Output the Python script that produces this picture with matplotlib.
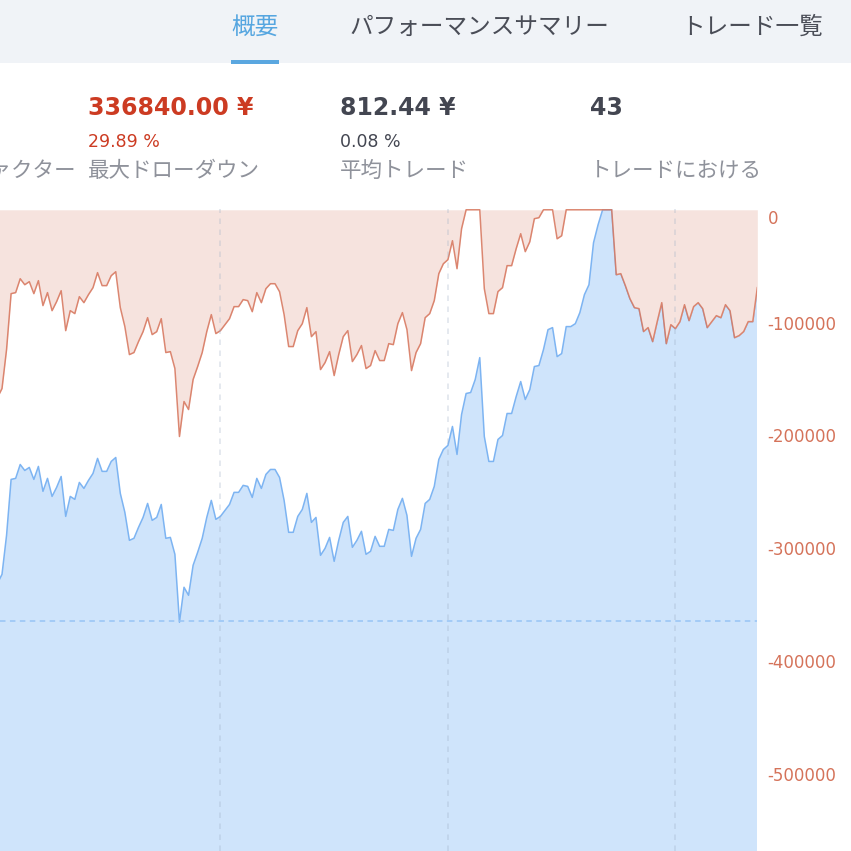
import numpy as np
import matplotlib.pyplot as plt
from matplotlib.patches import Rectangle

# fonts: japanese text needs a CJK family, numbers look closer in DejaVu
JP = ['Noto Sans CJK JP', 'DejaVu Sans']
NUM = ['DejaVu Sans', 'Noto Sans CJK JP']

# ---- data ----
# equity per closed trade (JPY), trade numbers 1..168 of the visible window
equity = [
    1033600, 1041600, 1076100, 1125700, 1126600, 1138900, 1133600, 1136300, 1125700, 1137200,
    1115100, 1126600, 1110600, 1118600, 1128300, 1092900, 1110600, 1108000, 1123000, 1117700,
    1124800, 1131000, 1144300, 1132800, 1132800, 1141600, 1145100, 1113300, 1096500, 1071700,
    1073500, 1083200, 1092000, 1104400, 1089400, 1092000, 1103500, 1073500, 1074300, 1059300,
    999100, 1030100, 1023000, 1049600, 1061100, 1073500, 1092000, 1107100, 1090300, 1092900,
    1098200, 1103500, 1114200, 1114200, 1120400, 1119500, 1109700, 1126600, 1117700, 1130100,
    1134500, 1134500, 1127400, 1107100, 1078800, 1078800, 1092900, 1099100, 1113300, 1087600,
    1092000, 1058400, 1064600, 1074300, 1053100, 1071700, 1087600, 1092900, 1065500, 1071700,
    1079700, 1059300, 1062000, 1075200, 1066400, 1066400, 1081400, 1080500, 1099100, 1108900,
    1093800, 1057500, 1073500, 1081400, 1104400, 1108000, 1119500, 1143400, 1152200, 1155800,
    1172600, 1147800, 1183200, 1201800, 1202700, 1214200, 1233600, 1163700, 1141600, 1141600,
    1161100, 1164600, 1184100, 1184100, 1199100, 1212400, 1196500, 1205300, 1225700, 1226600,
    1240700, 1258400, 1260200, 1234500, 1237200, 1261100, 1261100, 1263700, 1273500, 1289400,
    1298200, 1335400, 1351300, 1364600, 1364600, 1364600, 1307100, 1308000, 1297400, 1285900,
    1277900, 1277000, 1256700, 1260200, 1247800, 1265500, 1282300, 1246000, 1262800, 1259300,
    1265500, 1280500, 1266400, 1278800, 1282300, 1277000, 1260200, 1265500, 1270800, 1269000,
    1280500, 1275200, 1251300, 1253100, 1256700, 1265500, 1265500, 1295600,
]
prev_peak = 1200000        # equity high reached before the visible window
initial_capital = 1000000  # dashed baseline

dd_ticks = [0, -100000, -200000, -300000, -400000, -500000]

tabs = ['概要', 'パフォーマンスサマリー', 'トレード一覧']
stat_values = ['336840.00 ¥', '812.44 ¥', '43']
stat_pcts = ['29.89 %', '0.08 %', '']
stat_labels = ['最大ドローダウン', '平均トレード', 'トレードにおける']

trades = np.arange(1, len(equity) + 1)
equity = np.array(equity, dtype=float)
run_peak = np.maximum.accumulate(np.r_[prev_peak, equity])[1:]
drawdown = equity - run_peak

# ---- figure ----
W = H = 851
fig = plt.figure(figsize=(W / 100, H / 100), dpi=100)
fig.patch.set_facecolor('white')

chart_top = 209
chart_right = 757
ax_eq = fig.add_axes([0, 0, chart_right / W, (H - chart_top) / H])
ax_dd = ax_eq.twinx()

span = 568200
head = 700
top_eq = equity.max()
ax_eq.set_ylim(top_eq - span, top_eq + head)
ax_dd.set_ylim(-span, head)
ax_eq.set_xlim(1.56, 167.93)

# equity: blue area from the bottom
ax_eq.fill_between(trades, equity, top_eq - span * 2, color='#cfe4fb', lw=0)
ax_eq.plot(trades, equity, color='#7db4f2', lw=1.1)
ax_eq.axhline(initial_capital, color='#97c4f5', lw=1.1, dashes=(3.6, 2.9))

# drawdown: pink area hanging from zero
ax_dd.fill_between(trades, drawdown, 0, color='#f6e3de', lw=0)
ax_dd.plot(trades, drawdown, color='#d87a62', lw=1.1, alpha=0.9)

for x in [50, 100, 150]:
    ax_dd.axvline(x, color='#9eafc6', alpha=0.35, lw=1.1, dashes=(3.6, 3.6))

for a in (ax_eq, ax_dd):
    for s in a.spines.values():
        s.set_visible(False)
ax_eq.set_xticks([])
ax_eq.set_yticks([])
ax_dd.set_yticks(dd_ticks, [str(t) for t in dd_ticks])
ax_dd.tick_params(axis='y', length=0, pad=7.5, labelsize=12, labelcolor='#d5735a')
for lbl in ax_dd.get_yticklabels():
    if lbl.get_text() == '0':
        lbl.set_va('top')

# ---- header: tab bar ----
hdr = fig.add_axes([0, 1 - chart_top / H, 1, chart_top / H])
hdr.set_xlim(0, W)
hdr.set_ylim(chart_top, 0)
hdr.axis('off')
hdr.add_patch(Rectangle((0, 0), W, 63, color='#f0f3f7', lw=0))
hdr.add_patch(Rectangle((231, 60), 48, 4, color='#5aa7e0', lw=0))
tab_x = [255, 479, 752]
tab_col = ['#56a6e0', '#4a4d57', '#4a4d57']
for t, x, c in zip(tabs, tab_x, tab_col):
    hdr.text(x, 27, t, ha='center', va='center', fontsize=17, color=c, family=JP)

# ---- header: stats row (clipped at the right like the panel) ----
st = fig.add_axes([0, 1 - chart_top / H, 760 / W, (chart_top - 64) / H])
st.set_xlim(0, 760)
st.set_ylim(chart_top, 64)
st.axis('off')
val_col = ['#cc3b22', '#434651', '#434651']
pct_col = ['#cc3b22', '#434651', '#434651']
col_x = [88, 340, 590]
for v, p, l, x, vc, pc in zip(stat_values, stat_pcts, stat_labels, col_x, val_col, pct_col):
    st.text(x, 115, v, ha='left', va='baseline', fontsize=17, fontweight='bold',
            color=vc, family=NUM, clip_on=True)
    st.text(x, 147, p, ha='left', va='baseline', fontsize=12.5, color=pc,
            family=NUM, clip_on=True)
    st.text(x, 171, l, ha='left', va='center', fontsize=15.5, color='#8f929b',
            family=JP, clip_on=True)
st.text(76, 171, 'プロフィットファクター', ha='right', va='center', fontsize=15.5,
        color='#8f929b', family=JP, clip_on=True)

fig.savefig('out.png', dpi=100, facecolor='white')
